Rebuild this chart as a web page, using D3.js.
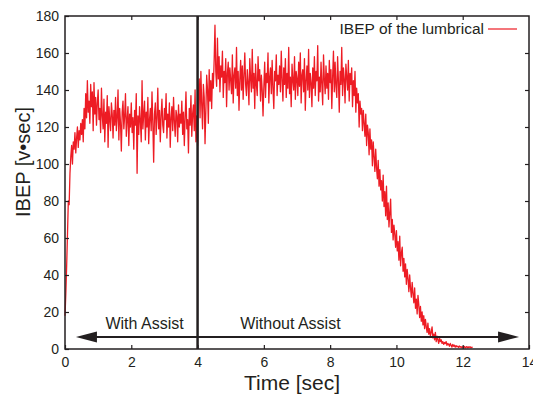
<!DOCTYPE html>
<html>
<head>
<meta charset="utf-8">
<script src="https://cdn.jsdelivr.net/npm/d3@7"></script>
<style>
  body { margin: 0; background: #fff; }
  svg { display: block; font-family: "Liberation Sans", Arial, sans-serif; }
</style>
</head>
<body>
<div id="chart"></div>
<script>
// ===== data =====
const sampleStep = 0.025; // sec between samples
const ibepValues = [
  18, 30, 45, 62, 80, 78, 95, 104, 110, 100, 112, 108, 117, 106, 114, 120, 109, 118, 113, 122,
  116, 124, 112, 130, 119, 138, 125, 145, 128, 134, 122, 143, 131, 139, 118, 144, 127, 136, 121, 133,
  140, 124, 130, 117, 141, 126, 119, 135, 112, 128, 122, 137, 109, 131, 124, 118, 133, 127, 114, 129,
  121, 136, 118, 125, 140, 113, 130, 122, 107, 128, 134, 119, 126, 138, 115, 124, 131, 110, 127, 120,
  133, 117, 125, 108, 129, 121, 138, 95, 126, 116, 131, 123, 112, 145, 119, 127, 134, 113, 128, 120,
  136, 111, 124, 130, 118, 139, 122, 101, 127, 133, 116, 125, 141, 119, 129, 112, 126, 135, 121, 117,
  130, 124, 138, 114, 127, 120, 133, 109, 125, 131, 118, 136, 123, 115, 129, 126, 112, 132, 120, 127,
  122, 134, 116, 128, 110, 125, 139, 119, 124, 106, 130, 121, 137, 115, 127, 132, 118, 140, 112, 126,
  110, 138, 146, 125, 150, 132, 119, 143, 136, 111, 129, 148, 140, 122, 151, 134, 145, 130, 149, 141,
  156, 175, 150, 142, 168, 146, 158, 139, 153, 147, 161, 136, 150, 144, 157, 131, 149, 155, 140, 152,
  145, 138, 159, 133, 148, 152, 141, 163, 137, 150, 129, 146, 156, 140, 153, 135, 148, 160, 143, 137,
  151, 144, 132, 157, 146, 139, 162, 141, 149, 130, 154, 143, 137, 158, 145, 151, 134, 148, 140, 126,
  142, 155, 136, 149, 144, 160, 133, 147, 152, 138, 156, 141, 130, 150, 145, 159, 137, 148, 143, 153,
  139, 161, 146, 134, 152, 143, 157, 136, 149, 141, 163, 138, 147, 131, 154, 145, 140, 158, 135, 150,
  146, 137, 155, 142, 160, 133, 148, 151, 139, 157, 129, 145, 153, 140, 162, 136, 149, 144, 131, 152,
  141, 158, 137, 150, 145, 164, 134, 147, 139, 155, 143, 132, 159, 146, 138, 153, 141, 149, 135, 156,
  144, 151, 130, 147, 161, 139, 155, 142, 136, 158, 145, 128, 150, 143, 163, 137, 152, 146, 133, 154,
  147, 140, 156, 134, 149, 143, 152, 131, 145, 137, 150, 128, 141, 133, 138, 120, 134, 127, 130, 118,
  129, 122, 115, 127, 110, 121, 117, 105, 119, 108, 113, 99, 112, 104, 96, 108, 98, 92, 102, 88,
  97, 86, 91, 80, 94, 77, 85, 72, 88, 70, 79, 66, 74, 81, 63, 70, 59, 67, 62, 55,
  64, 53, 58, 48, 61, 45, 52, 55, 42, 49, 39, 46, 35, 43, 38, 31, 40, 33, 28, 36,
  30, 25, 33, 22, 27, 19, 29, 24, 17, 23, 15, 20, 13, 18, 11, 16, 12, 9, 14, 8,
  11, 7, 9, 12, 6, 8, 5, 9, 4, 7, 5, 3, 6, 4, 5, 3, 4, 2.5, 3.5, 3,
  4, 2, 3, 2.5, 1.5, 3, 2, 1, 2.5, 1.5, 2, 1, 1.8, 1.2, 1.5, 0.8, 1.6, 1, 1.3, 0.7,
  1.2, 0.8, 1.4, 0.6, 1, 1.3, 0.7, 1.1, 0.9, 1.2, 0.6, 1, 0.8
];
const xTicks = [0, 2, 4, 6, 8, 10, 12, 14];
const yTicks = [0, 20, 40, 60, 80, 100, 120, 140, 160, 180];
const assistSwitch = 4;            // sec, vertical divider
const arrowLevel = 6.5;            // IBEP value of the arrow
const arrowSpan = [0.33, 13.7];    // sec, arrow tips
const phaseLabels = [
  { text: 'With Assist', at: 2.4 },
  { text: 'Without Assist', at: 6.8 }
];
const seriesName = 'IBEP of the lumbrical';

// ===== chart =====
const width = 533, height = 402;
const margin = { top: 16, right: 4, bottom: 53, left: 65 };
const innerW = width - margin.left - margin.right;
const innerH = height - margin.top - margin.bottom;
const ink = '#231f20';
const red = '#ed1c24';

const svg = d3.select('#chart')
  .append('svg')
  .attr('width', width)
  .attr('height', height);

const g = svg.append('g')
  .attr('transform', `translate(${margin.left},${margin.top})`);

const x = d3.scaleLinear().domain([0, 14]).range([0, innerW]);
const y = d3.scaleLinear().domain([0, 180]).range([innerH, 0]);

const points = ibepValues.map((v, i) => [i * sampleStep, v]);

// signal
g.append('path')
  .datum(points)
  .attr('fill', 'none')
  .attr('stroke', red)
  .attr('stroke-width', 1.3)
  .attr('stroke-linejoin', 'round')
  .attr('d', d3.line().x(d => x(d[0])).y(d => y(d[1])));

// axes (ticks pointing inward, mirrored on top/right)
function styleAxis(sel) {
  sel.select('.domain').remove();
  sel.selectAll('.tick line').attr('stroke', ink).attr('stroke-width', 1.2);
  sel.selectAll('.tick text')
    .attr('fill', ink)
    .style('font-size', '14px')
    .style('font-family', '"Liberation Sans", Arial, sans-serif');
}

g.append('g')
  .attr('transform', `translate(0,${innerH})`)
  .call(d3.axisBottom(x).tickValues(xTicks).tickSizeInner(-4).tickSizeOuter(0).tickPadding(8))
  .call(styleAxis);

g.append('g')
  .call(d3.axisTop(x).tickValues(xTicks.slice(1, -1)).tickSizeInner(-4).tickSizeOuter(0).tickFormat(''))
  .call(styleAxis);

g.append('g')
  .call(d3.axisLeft(y).tickValues(yTicks).tickSizeInner(-4).tickSizeOuter(0).tickPadding(6))
  .call(styleAxis);

g.append('g')
  .attr('transform', `translate(${innerW},0)`)
  .call(d3.axisRight(y).tickValues(yTicks.slice(1, -1)).tickSizeInner(-4).tickSizeOuter(0).tickFormat(''))
  .call(styleAxis);

// frame
g.append('rect')
  .attr('width', innerW)
  .attr('height', innerH)
  .attr('fill', 'none')
  .attr('stroke', ink)
  .attr('stroke-width', 1.5);

// divider at the moment the assist is switched off
g.append('line')
  .attr('x1', x(assistSwitch)).attr('x2', x(assistSwitch))
  .attr('y1', 0).attr('y2', innerH)
  .attr('stroke', ink)
  .attr('stroke-width', 2.5);

// double arrow
const ay = y(arrowLevel);
const ax0 = x(arrowSpan[0]), ax1 = x(arrowSpan[1]);
const headL = 21, headH = 5.5;
g.append('line')
  .attr('x1', ax0 + headL - 1).attr('x2', ax1 - headL + 1)
  .attr('y1', ay).attr('y2', ay)
  .attr('stroke', ink)
  .attr('stroke-width', 2.2);
g.append('path')
  .attr('d', `M${ax0},${ay}L${ax0 + headL},${ay - headH}L${ax0 + headL},${ay + headH}Z`)
  .attr('fill', ink);
g.append('path')
  .attr('d', `M${ax1},${ay}L${ax1 - headL},${ay - headH}L${ax1 - headL},${ay + headH}Z`)
  .attr('fill', ink);

g.selectAll('.phase')
  .data(phaseLabels)
  .enter().append('text')
  .attr('class', 'phase')
  .attr('x', d => x(d.at))
  .attr('y', ay - 8)
  .attr('text-anchor', 'middle')
  .attr('fill', ink)
  .style('font-size', '16px')
  .text(d => d.text);

// legend
const legend = g.append('g').attr('transform', `translate(${innerW - 12},${13})`);
legend.append('line')
  .attr('x1', -29).attr('x2', 0)
  .attr('stroke', red)
  .attr('stroke-width', 1.2);
legend.append('text')
  .attr('x', -33)
  .attr('dy', '0.35em')
  .attr('text-anchor', 'end')
  .attr('fill', ink)
  .style('font-size', '15.5px')
  .text(seriesName);

// axis titles
svg.append('text')
  .attr('x', 292)
  .attr('y', 390)
  .attr('text-anchor', 'middle')
  .attr('fill', ink)
  .style('font-size', '21px')
  .text('Time [sec]');

svg.append('text')
  .attr('transform', 'translate(30,162) rotate(-90)')
  .attr('text-anchor', 'middle')
  .attr('fill', ink)
  .style('font-size', '20px')
  .text('IBEP [v\u2022sec]');
</script>
</body>
</html>
